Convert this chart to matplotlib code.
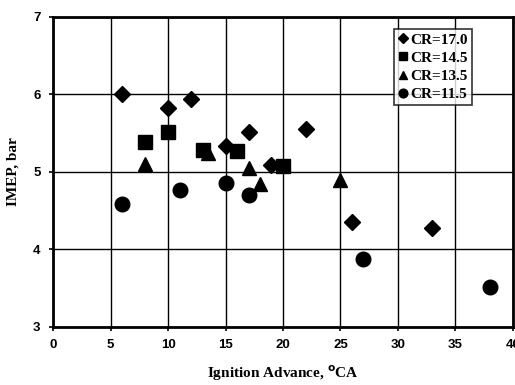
import numpy as np
import matplotlib.pyplot as plt

# CR = 17.0
cr170_x = [6, 10, 12, 15, 17, 19, 22, 26, 33]
cr170_y = [6.0, 5.83, 5.94, 5.34, 5.52, 5.09, 5.56, 4.35, 4.27]
# CR = 14.5
cr145_x = [8, 10, 13, 16, 20]
cr145_y = [5.38, 5.51, 5.28, 5.27, 5.08]
# CR = 13.5
cr135_x = [8, 13.5, 17, 18, 25]
cr135_y = [5.1, 5.24, 5.05, 4.85, 4.89]
# CR = 11.5
cr115_x = [6, 11, 15, 17, 27, 38]
cr115_y = [4.58, 4.76, 4.86, 4.70, 3.88, 3.52]

xticks = [0, 5, 10, 15, 20, 25, 30, 35, 40]
yticks = [3, 4, 5, 6, 7]

fig = plt.figure(figsize=(5.15, 3.85), dpi=100)
ax = fig.add_axes([0.103, 0.151, 0.893, 0.805])

ax.plot(cr170_x, cr170_y, 'D', color='black', markersize=8, label='CR=17.0')
ax.plot(cr145_x, cr145_y, 's', color='black', markersize=9.5, label='CR=14.5')
ax.plot(cr135_x, cr135_y, '^', color='black', markersize=10, label='CR=13.5')
ax.plot(cr115_x, cr115_y, 'o', color='black', markersize=10.5, label='CR=11.5')

ax.set_xlim(0, 40)
ax.set_ylim(3, 7)
ax.set_xticks(xticks)
ax.set_yticks(yticks)
ax.grid(True, color='black', linewidth=1.0)
ax.set_axisbelow(True)
for s in ax.spines.values():
    s.set_linewidth(2)
ax.tick_params(direction='out', length=3, width=1.2, pad=6)
for lab in ax.get_xticklabels() + ax.get_yticklabels():
    lab.set_fontfamily('Liberation Sans')
    lab.set_fontweight('bold')
    lab.set_fontsize(9.5)

ax.set_xlabel('Ignition Advance, $^{\\mathbf{o}}$CA', fontfamily='Liberation Serif',
              fontweight='bold', fontsize=11, labelpad=9)
ax.set_ylabel('IMEP, bar', fontfamily='Liberation Serif', fontweight='bold',
              fontsize=11, labelpad=10)

leg = ax.legend(loc='upper right', bbox_to_anchor=(0.911, 0.961), frameon=True,
                fancybox=False, edgecolor='black', handletextpad=0.15,
                handlelength=0.7, borderpad=0.25, labelspacing=0.3,
                borderaxespad=0, prop={'family': 'Liberation Serif', 'weight': 'bold', 'size': 11},
                markerscale=0.6)
leg.get_frame().set_linewidth(1.2)

fig.savefig('out.png', dpi=100)
